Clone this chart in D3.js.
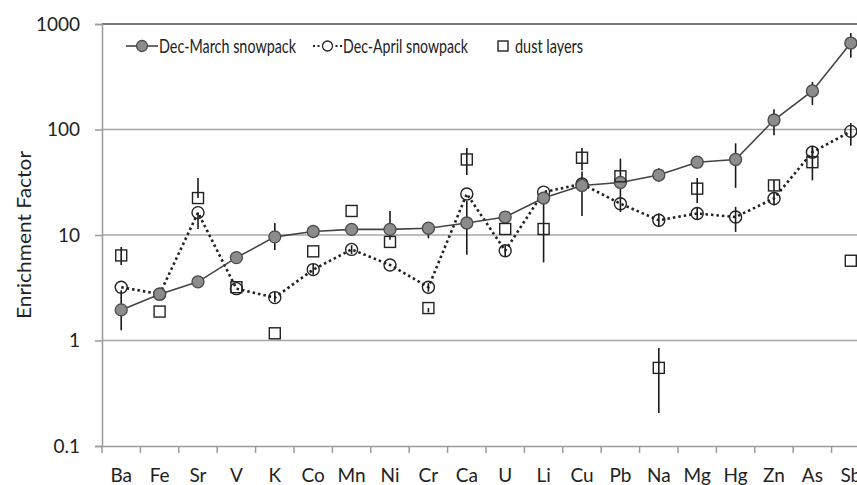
<!DOCTYPE html>
<html lang="en">
<head>
<meta charset="UTF-8">
<title>Enrichment Factor</title>
<script src="https://d3js.org/d3.v7.min.js"></script>
<style>
  body { margin: 0; background: #fff; }
  svg { display: block; font-family: Lato, "Open Sans", sans-serif; }
</style>
</head>
<body>
<svg width="857" height="485"></svg>
<script>
// data
const elements = ["Ba","Fe","Sr","V","K","Co","Mn","Ni","Cr","Ca","U","Li","Cu","Pb","Na","Mg","Hg","Zn","As","Sb"];

const decMarch   = [1.95, 2.75, 3.6, 6.1, 9.6, 10.8, 11.3, 11.3, 11.6, 13.0, 14.8, 22.4, 29.5, 31.5, 37, 49, 52, 123, 232, 660];
const decMarchLo = [1.25, null, null, null, 7.2, 9.3, null, 9.0, 9.3, 6.5, null, null, 15.1, 16.5, 32, 43, 28, 88, 171, 480];
const decMarchHi = [3.0, null, null, null, 13.0, 12.4, null, 16.9, 13.3, 21, null, null, 40, 53, 43, 56, 74, 156, 282, 820];

const decApril   = [3.2, 2.75, 16.3, 3.1, 2.55, 4.7, 7.3, 5.2, 3.2, 24.5, 7.1, 25.5, 30.5, 19.8, 13.8, 16.0, 14.8, 22.2, 61, 96];
const decAprilLo = [null, null, 11.4, null, 2.3, 4.2, 6.6, null, 2.9, null, 6.2, null, null, null, 12, 14, 10.7, 19, 54, 70];
const decAprilHi = [null, null, null, null, 2.9, 5.3, 8.0, null, 3.5, null, 8.0, null, null, null, 16, 18, 18.5, 25, 70, 115];

const dust   = [6.4, 1.88, 22.4, 3.2, 1.17, 7.0, 16.9, 8.6, 2.03, 52, 11.4, 11.4, 54, 36, 0.55, 27.5, null, 29.5, 49, 5.7];
const dustLo = [5.2, null, null, null, null, null, null, null, 1.85, 37, null, 5.5, 41, null, 0.206, 20.1, null, 26, 33, null];
const dustHi = [7.7, null, 34.7, null, null, null, null, null, null, 66.8, null, 20, 66.8, null, 0.85, 34.7, null, 33, 68, null];

const yTicks = [0.1, 1, 10, 100, 1000];
const yTickLabels = ["0.1", "1", "10", "100", "1000"];

const seriesNames = ["Dec-March snowpack", "Dec-April snowpack", "dust layers"];

const svg = d3.select("svg");
const margin = { top: 24, left: 102, bottom: 446, right: 870 };

const x = d3.scaleBand().domain(elements).range([margin.left, margin.right]);
const y = d3.scaleLog().domain([0.1, 1000]).range([margin.bottom, margin.top]);
const cx = d => x(d) + x.bandwidth() / 2;

// grid lines
svg.append("g")
    .selectAll("line")
    .data(yTicks.slice(1))
    .enter()
    .append("line")
    .attr("x1", margin.left)
    .attr("x2", 857)
    .attr("y1", d => y(d))
    .attr("y2", d => y(d))
    .style("stroke", d => d === 1000 ? "#7a7a7a" : "#a8a8a8")
    .style("stroke-width", d => d === 1000 ? 2 : 1.5);

// y axis
const yAxis = svg.append("g")
    .attr("transform", `translate(${margin.left},0)`)
    .call(d3.axisLeft(y).tickValues(yTicks).tickFormat((d, i) => yTickLabels[i]).tickSize(7).tickPadding(15));
yAxis.selectAll("path, line").style("stroke", "#9a9a9a").style("stroke-width", 1.5);
yAxis.selectAll("text").style("font-size", "19px").style("fill", "#222").style("font-family", "Lato, sans-serif");

// x axis
const xAxis = svg.append("g")
    .attr("transform", `translate(0,${margin.bottom})`)
    .call(d3.axisBottom(x).tickSize(0).tickPadding(23));
xAxis.select("path").style("stroke", "#9a9a9a").style("stroke-width", 1.5);
xAxis.selectAll("text").style("font-size", "19px").style("fill", "#222").style("font-family", "Lato, sans-serif");

// tick marks between categories
svg.append("g")
    .selectAll("line")
    .data(elements)
    .enter()
    .append("line")
    .attr("x1", d => x(d))
    .attr("x2", d => x(d))
    .attr("y1", margin.bottom)
    .attr("y2", margin.bottom + 7)
    .style("stroke", "#9a9a9a")
    .style("stroke-width", 1.5);

// y axis label
svg.append("text")
    .attr("transform", "rotate(-90)")
    .attr("x", -235)
    .attr("y", 31)
    .attr("text-anchor", "middle")
    .attr("textLength", 168)
    .attr("lengthAdjust", "spacingAndGlyphs")
    .text("Enrichment Factor")
    .style("font-size", "20px")
    .style("fill", "#222");

// error bars
function errorBars(vals, lo, hi) {
    const rows = elements.map((e, i) => ({ e, v: vals[i], lo: lo[i], hi: hi[i] }))
        .filter(d => d.v !== null && (d.lo !== null || d.hi !== null));
    svg.append("g")
        .selectAll("line")
        .data(rows)
        .enter()
        .append("line")
        .attr("x1", d => cx(d.e))
        .attr("x2", d => cx(d.e))
        .attr("y1", d => y(d.lo !== null ? d.lo : d.v))
        .attr("y2", d => y(d.hi !== null ? d.hi : d.v))
        .style("stroke", "#1a1a1a")
        .style("stroke-width", 1.6);
}
errorBars(decMarch, decMarchLo, decMarchHi);
errorBars(decApril, decAprilLo, decAprilHi);
errorBars(dust, dustLo, dustHi);

// lines
const line = d3.line().x((d, i) => cx(elements[i])).y(d => y(d));

svg.append("path")
    .datum(decApril)
    .attr("d", line)
    .style("fill", "none")
    .style("stroke", "#222")
    .style("stroke-width", 2.6)
    .style("stroke-dasharray", "2.5,3");

svg.append("path")
    .datum(decMarch)
    .attr("d", line)
    .style("fill", "none")
    .style("stroke", "#444")
    .style("stroke-width", 1.6);

// markers
svg.append("g")
    .selectAll("circle")
    .data(decApril)
    .enter()
    .append("circle")
    .attr("cx", (d, i) => cx(elements[i]))
    .attr("cy", d => y(d))
    .attr("r", 6)
    .style("fill", "none")
    .style("stroke", "#222")
    .style("stroke-width", 1.4);

svg.append("g")
    .selectAll("circle")
    .data(decMarch)
    .enter()
    .append("circle")
    .attr("cx", (d, i) => cx(elements[i]))
    .attr("cy", d => y(d))
    .attr("r", 6)
    .style("fill", "#8c8c8c")
    .style("stroke", "#4a4a4a")
    .style("stroke-width", 1.3);

svg.append("g")
    .selectAll("rect")
    .data(elements.map((e, i) => ({ e, v: dust[i] })).filter(d => d.v !== null))
    .enter()
    .append("rect")
    .attr("x", d => cx(d.e) - 5.5)
    .attr("y", d => y(d.v) - 5.5)
    .attr("width", 11)
    .attr("height", 11)
    .style("fill", "none")
    .style("stroke", "#222")
    .style("stroke-width", 1.4);

// legend
const legendText = [
    { x: 159, w: 137 },
    { x: 343, w: 125 },
    { x: 515, w: 68 }
];
const lg = svg.append("g").attr("transform", "translate(0,46)");
lg.append("line").attr("x1", 126).attr("x2", 158).attr("y1", 0).attr("y2", 0)
    .style("stroke", "#444").style("stroke-width", 1.6);
lg.append("circle").attr("cx", 142).attr("cy", 0).attr("r", 5.5)
    .style("fill", "#8c8c8c").style("stroke", "#4a4a4a").style("stroke-width", 1.3);

lg.append("line").attr("x1", 313).attr("x2", 342).attr("y1", 0).attr("y2", 0)
    .style("stroke", "#222").style("stroke-width", 2.2).style("stroke-dasharray", "2,2.5");
lg.append("circle").attr("cx", 327.5).attr("cy", 0).attr("r", 5)
    .style("fill", "#fff").style("stroke", "#222").style("stroke-width", 1.3);

lg.append("rect").attr("x", 498).attr("y", -5).attr("width", 10).attr("height", 10)
    .style("fill", "none").style("stroke", "#222").style("stroke-width", 1.4);

lg.selectAll("text")
    .data(seriesNames)
    .enter()
    .append("text")
    .attr("x", (d, i) => legendText[i].x)
    .attr("y", 6.5)
    .attr("textLength", (d, i) => legendText[i].w)
    .attr("lengthAdjust", "spacingAndGlyphs")
    .text(d => d)
    .style("font-size", "19px")
    .style("fill", "#222");
</script>
</body>
</html>
